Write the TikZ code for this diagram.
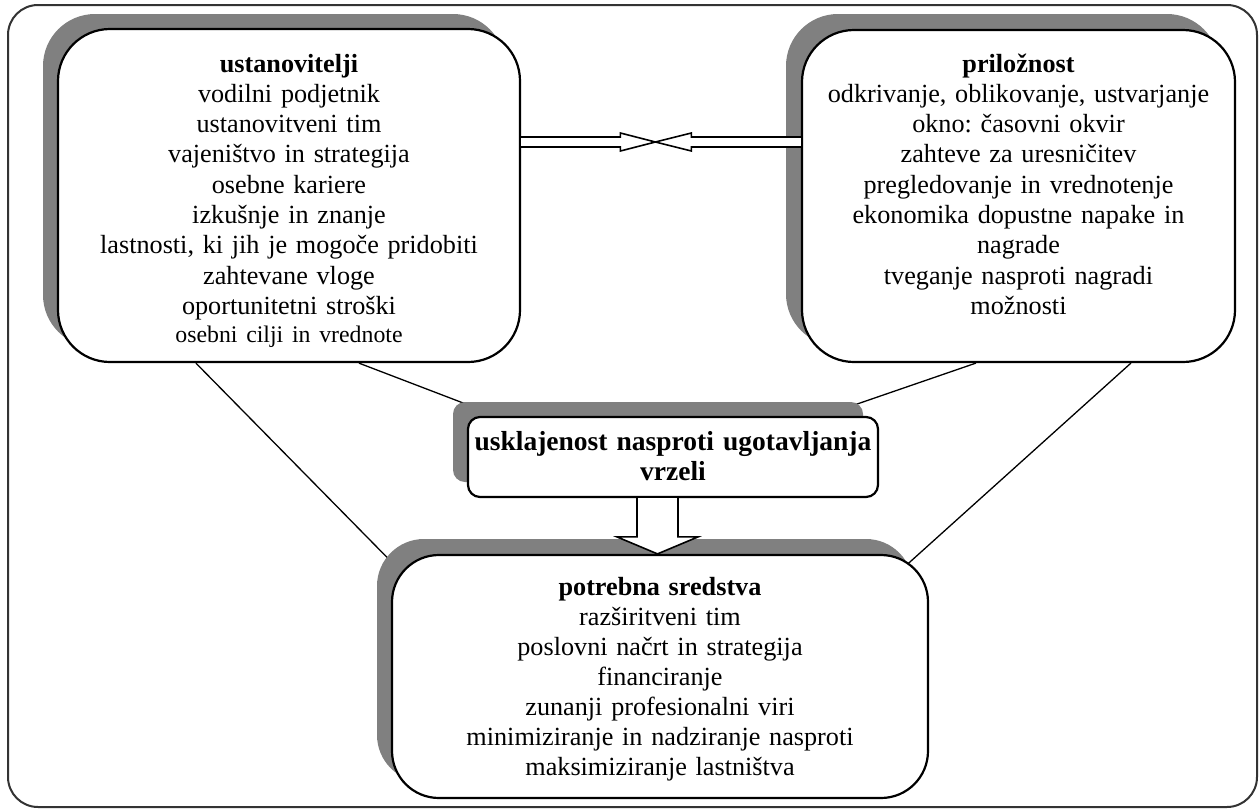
\documentclass[tikz,border=0pt]{standalone}
\usepackage{fontspec}
\setmainfont{Liberation Serif}
\usetikzlibrary{calc}
\definecolor{shadowgray}{HTML}{808080}
\definecolor{framegray}{HTML}{333333}
\pgfdeclarelayer{back}
\pgfsetlayers{back,main}
\frenchspacing
\begin{document}
\begin{tikzpicture}[x=1pt,y=-1pt,
  card/.style={draw=black, line width=2.2pt, fill=white, rectangle, inner sep=0pt},
  cardshadow/.style={fill=shadowgray, rectangle, inner sep=0pt},
  txt/.style={align=center, inner sep=0pt, font=\fontsize{26.2}{30.3}\selectfont},
  link/.style={draw=black, line width=1.3pt},
  hollow/.style={draw=black, line width=1.6pt, fill=white, line join=miter}
]
\useasboundingbox (0,0) rectangle (1259,809);
\node[draw=framegray, line width=2pt, rounded corners=30pt, rectangle, inner sep=0pt,
      minimum width=1249pt, minimum height=802pt] (frame) at (632.5,406) {};

% shadows
\node[cardshadow, rounded corners=52pt, minimum width=462pt, minimum height=333pt] (ustS) at (274,180.5) {};
\node[cardshadow, rounded corners=52pt, minimum width=433pt, minimum height=332pt] (oppS) at (1002.5,180) {};
\node[cardshadow, rounded corners=12pt, minimum width=410pt, minimum height=80pt] (midS) at (658,442) {};
\node[cardshadow, rounded corners=47pt, minimum width=536pt, minimum height=243pt] (potS) at (645,660.5) {};

% boxes
\node[card, rounded corners=52pt, minimum width=462pt, minimum height=333pt] (ust) at (289,195.5) {};
\node[card, rounded corners=52pt, minimum width=433pt, minimum height=332pt] (opp) at (1018.5,196) {};
\node[card, rounded corners=12pt, minimum width=410pt, minimum height=80pt] (mid) at (673,457) {};
\node[card, rounded corners=47pt, minimum width=536pt, minimum height=243pt] (pot) at (660,676.5) {};

% texts
\node[txt, text width=460pt, anchor=base] (ustT) at (289,72) {\textbf{ustanovitelji}\\
vodilni podjetnik\\ ustanovitveni tim\\ vajeništvo in strategija\\ osebne kariere\\
izkušnje in znanje\\ lastnosti, ki jih je mogoče pridobiti\\ zahtevane vloge\\
oportunitetni stroški\\[-2pt] {\fontsize{23.8}{28}\selectfont osebni cilji in vrednote}};
\node[txt, text width=430pt, anchor=base] (oppT) at (1018.5,72) {\textbf{priložnost}\\
odkrivanje, oblikovanje, ustvarjanje\\ okno: časovni okvir\\ zahteve za uresničitev\\
pregledovanje in vrednotenje\\ ekonomika dopustne napake in\\ nagrade\\
tveganje nasproti nagradi\\ možnosti};
\node[txt, text width=408pt, anchor=base, font=\fontsize{27.5}{30}\selectfont\bfseries] (midT) at (673,450)
  {usklajenost nasproti ugotavljanja\\ vrzeli};
\node[txt, text width=530pt, anchor=base, font=\fontsize{26.2}{30}\selectfont] (potT) at (660,595) {\textbf{potrebna sredstva}\\
razširitveni tim\\ poslovni načrt in strategija\\ financiranje\\ zunanji profesionalni viri\\
minimiziranje in nadziranje nasproti\\ maksimiziranje lastništva};

% connecting lines (behind the boxes)
\coordinate (eA) at ($(pot.north west)+(37,45)$);
\coordinate (eB) at ($(mid.north west)+(64,13)$);
\coordinate (eC) at ($(mid.north west)+(318,13)$);
\coordinate (eD) at ($(pot.north west)+(478,45)$);
\begin{pgfonlayer}{back}
\draw[link] ($(ust.south west)+(139,0)$) -- (eA);
\draw[link] ($(ust.south west)+(302,0)$) -- (eB);
\draw[link] ($(opp.south west)+(175,0)$) -- (eC);
\draw[link] ($(opp.south west)+(330,0)$) -- (eD);
\end{pgfonlayer}

% double hollow arrow between the top boxes
\coordinate (dl) at ($(ust.east)+(0,-53.5)$);
\coordinate (dr) at ($(opp.west)+(0,-54)$);
\coordinate (tip) at ($(dl)!0.48!(dr)$);
\draw[hollow] ($(dl)+(0,-5)$) -- ($(tip)+(-35,-5)$) -- ($(tip)+(-35,-9)$) -- (tip)
  -- ($(tip)+(-35,9)$) -- ($(tip)+(-35,5)$) -- ($(dl)+(0,5)$);
\draw[hollow] ($(dr)+(0,-5)$) -- ($(tip)+(36,-5)$) -- ($(tip)+(36,-9)$) -- (tip)
  -- ($(tip)+(36,9)$) -- ($(tip)+(36,5)$) -- ($(dr)+(0,5)$);

% hollow down arrow
\coordinate (ds) at ($(mid.south)+(-15.5,0)$);
\coordinate (dt) at ($(pot.north)+(-2.5,0)$);
\draw[hollow] ($(ds)+(-20.5,0)$) -- ($(dt)+(-20.5,-17)$) -- ($(dt)+(-40.5,-17)$) -- (dt)
  -- ($(dt)+(40.5,-17)$) -- ($(dt)+(20.5,-17)$) -- ($(ds)+(20.5,0)$);
\end{tikzpicture}
\end{document}
